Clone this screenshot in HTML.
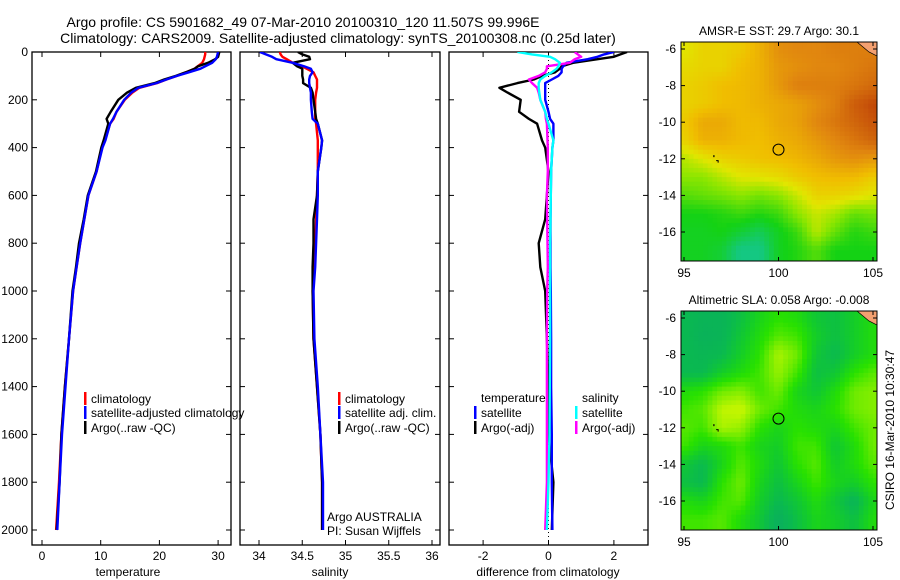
<!DOCTYPE html>
<html><head><meta charset="utf-8">
<style>
html,body{margin:0;padding:0;background:#fff;}
svg{display:block;font-family:"Liberation Sans",sans-serif;}
text{fill:#000;}
</style></head>
<body>
<svg id="fig" width="900" height="580" viewBox="0 0 900 580">
  <text x="303" y="27" font-size="14" text-anchor="middle">Argo profile: CS 5901682_49 07-Mar-2010 20100310_120 11.507S 99.996E</text>
  <text x="338" y="43" font-size="14" text-anchor="middle">Climatology: CARS2009. Satellite-adjusted climatology: synTS_20100308.nc (0.25d later)</text>
  <g id="plots"></g>
</svg>
<script>
// ---------- DATA ----------
const depths = [0,10,20,30,45,60,70,85,100,115,130,150,170,200,250,280,300,370,400,500,600,700,800,900,1000,1200,1400,1600,1800,2000];
const tempClim  = [27.8,27.8,27.7,27.6,27.3,26.5,26,24.5,23,21.2,19.6,16.6,15.4,14.1,12.7,12.2,11.6,10.7,10.2,9.3,7.9,7.2,6.5,5.9,5.3,4.6,3.9,3.3,2.9,2.4];
const tempSat   = [30,29.9,29.8,29.6,29,27.8,27,25,23,21.2,19.5,16.4,15.2,14,12.7,12.1,11.6,10.8,10.3,9.3,7.9,7.2,6.5,5.9,5.3,4.6,4,3.4,3,2.6];
const tempArgo  = [30.2,30.1,30,29.5,28.3,26.6,26,24.5,22.8,20.8,19.2,16,14.5,13,11.7,11,11.3,10.5,10.1,9.2,7.8,7.1,6.3,5.8,5.2,4.6,3.9,3.3,3.0,2.5];
const salClim   = [34.24,34.25,34.27,34.32,34.39,34.5,34.55,34.63,34.65,34.67,34.67,34.67,34.66,34.65,34.65,34.65,34.66,34.68,34.68,34.68,34.67,34.66,34.65,34.64,34.62,34.63,34.67,34.71,34.73,34.73];
const salSat    = [34.01,34.08,34.15,34.2,34.39,34.52,34.6,34.62,34.59,34.58,34.58,34.59,34.6,34.6,34.61,34.62,34.68,34.73,34.72,34.68,34.68,34.67,34.66,34.65,34.63,34.64,34.68,34.71,34.74,34.74];
const salArgo   = [34.45,34.5,34.58,34.59,34.39,34.44,34.5,34.5,34.5,34.51,34.51,34.6,34.62,34.63,34.65,34.66,34.68,34.73,34.72,34.68,34.67,34.63,34.63,34.62,34.62,34.63,34.67,34.71,34.73,34.73];
const dTempSat  = [2.0,1.7,1.5,1.2,0.55,0.45,0.4,0.4,0.3,0.1,-0.1,-0.1,-0.1,-0.1,0,0.05,0.15,0.15,0.12,0.08,0.07,0.06,0.06,0.06,0.07,0.08,0.08,0.1,0.1,0.12];
const dTempArgo = [2.4,2.2,2.0,1.5,0.75,0.4,0.35,0.2,-0.2,-0.45,-0.95,-1.5,-1.25,-0.85,-0.9,-0.6,-0.35,-0.2,-0.1,0,-0.05,-0.1,-0.3,-0.25,-0.1,-0.05,0,0,0.15,0.1];
const dSalSat   = [-0.95,-0.5,0.05,0.2,0.35,0.3,0.25,0.1,-0.1,-0.25,-0.3,-0.3,-0.28,-0.25,-0.1,-0.05,0,0.15,0.12,0.08,0.07,0.06,0.05,0.05,0.05,0.05,0.04,0.03,0.0,-0.05];
const dSalArgo  = [0.8,0.9,1.0,0.8,0.65,-0.05,-0.05,-0.1,-0.3,-0.6,-0.5,-0.35,-0.3,-0.25,-0.1,-0.08,-0.05,-0.03,-0.02,-0.02,-0.05,-0.04,-0.03,-0.02,-0.04,-0.05,-0.05,-0.05,-0.05,-0.1];
const depthTicks = [0,200,400,600,800,1000,1200,1400,1600,1800,2000];
const tempTicks = [0,10,20,30];
const salTicks = [34,34.5,35,35.5,36];
const salTickLabels = ["34","34.5","35","35.5","36"];
const diffTicks = [-2,0,2];
const lonTicks = [95,100,105];
const latTicks = [-6,-8,-10,-12,-14,-16];
const sstField = [
 [0.55,0.6,0.6,0.62,0.68,0.76,0.78,0.78,0.8,0.8,0.8],
 [0.58,0.6,0.6,0.65,0.68,0.74,0.76,0.78,0.78,0.8,0.82],
 [0.6,0.62,0.65,0.66,0.68,0.74,0.8,0.8,0.8,0.82,0.85],
 [0.6,0.62,0.65,0.66,0.68,0.7,0.72,0.76,0.8,0.88,0.92],
 [0.62,0.7,0.7,0.66,0.66,0.7,0.72,0.78,0.82,0.86,0.9],
 [0.6,0.68,0.68,0.66,0.65,0.68,0.7,0.74,0.78,0.82,0.86],
 [0.5,0.55,0.6,0.62,0.64,0.65,0.67,0.7,0.74,0.76,0.74],
 [0.45,0.45,0.5,0.55,0.56,0.58,0.62,0.65,0.66,0.66,0.62],
 [0.38,0.4,0.42,0.45,0.42,0.45,0.52,0.6,0.6,0.58,0.55],
 [0.3,0.3,0.32,0.35,0.32,0.35,0.45,0.52,0.48,0.4,0.42],
 [0.28,0.28,0.3,0.25,0.2,0.28,0.35,0.5,0.4,0.32,0.35],
 [0.28,0.28,0.25,0.12,0.12,0.28,0.32,0.38,0.3,0.3,0.3]
];
const slaField = [
 [0.15,0.1,0.1,0.2,0.35,0.45,0.4,0.25,0.2,0.3,0.4],
 [0.15,0.08,0.1,0.25,0.4,0.55,0.5,0.3,0.2,0.3,0.4],
 [0.15,0.12,0.15,0.3,0.45,0.75,0.6,0.25,0.15,0.3,0.4],
 [0.15,0.15,0.3,0.4,0.5,0.7,0.5,0.2,0.25,0.45,0.55],
 [0.4,0.45,0.6,0.65,0.5,0.6,0.35,0.25,0.4,0.6,0.65],
 [0.5,0.55,0.8,0.85,0.6,0.5,0.4,0.35,0.45,0.6,0.65],
 [0.55,0.5,0.75,0.7,0.45,0.35,0.45,0.4,0.35,0.5,0.6],
 [0.5,0.35,0.4,0.5,0.35,0.3,0.5,0.5,0.25,0.4,0.6],
 [0.25,0.15,0.35,0.55,0.4,0.25,0.45,0.55,0.3,0.4,0.55],
 [0.2,0.15,0.45,0.6,0.35,0.2,0.35,0.5,0.35,0.3,0.45],
 [0.4,0.35,0.5,0.55,0.3,0.15,0.25,0.4,0.25,0.1,0.35],
 [0.5,0.5,0.55,0.4,0.25,0.05,0.2,0.35,0.3,0.2,0.4]
];
const argoLon = 100.0, argoLat = -11.5;

// ---------- DRAW ----------
const NS = "http://www.w3.org/2000/svg";
const root = document.getElementById('plots');
function el(tag, attrs, parent, txt){
  const e = document.createElementNS(NS, tag);
  for (const k in attrs) e.setAttribute(k, attrs[k]);
  if (txt !== undefined) e.textContent = txt;
  (parent || root).appendChild(e);
  return e;
}
const yTop = 52, yBot = 545;
function yScale(d){ return 52 + d * (478/2000); }

const panels = [
  {name:'temperature', x0:32, x1:231, sx:v=>42+5.87*v, ticks:tempTicks, labels:tempTicks.map(String), title:'temperature', tx:128},
  {name:'salinity', x0:240, x1:440, sx:v=>259+86.5*(v-34), ticks:salTicks, labels:salTickLabels, title:'salinity', tx:330},
  {name:'difference', x0:449, x1:648, sx:v=>548.5+32.7*v, ticks:diffTicks, labels:diffTicks.map(String), title:'difference from climatology', tx:548}
];

function pathFor(xs, sx){
  return xs.map((v,i)=> (i?'L':'M') + sx(v).toFixed(1) + ',' + yScale(depths[i]).toFixed(1)).join(' ');
}

panels.forEach((p, pi) => {
  const g = el('g', {});
  
  
  const frame = el('rect', {x:p.x0, y:yTop, width:p.x1-p.x0, height:yBot-yTop, fill:'none', stroke:'#000', 'stroke-width':1.3}, g);
  
  
  depthTicks.forEach(d => {
    const y = yScale(d);
    el('line', {x1:p.x0, x2:p.x0+5, y1:y, y2:y, stroke:'#000'}, g);
    el('line', {x1:p.x1-5, x2:p.x1, y1:y, y2:y, stroke:'#000'}, g);
    if (pi === 0) {
      const t = el('text', {x:p.x0-4, y:y+4, 'font-size':12, 'text-anchor':'end'}, g, String(d));
      
      
    }
  });
  p.ticks.forEach((v, i) => {
    const x = p.sx(v);
    el('line', {x1:x, x2:x, y1:yTop, y2:yTop+5, stroke:'#000'}, g);
    el('line', {x1:x, x2:x, y1:yBot-5, y2:yBot, stroke:'#000'}, g);
    const t = el('text', {x:x, y:560, 'font-size':12, 'text-anchor':'middle'}, g, p.labels[i]);
    
    
  });
  const at = el('text', {x:p.tx, y:576, 'font-size':12, 'text-anchor':'middle'}, g, p.title);
  
  
  const clipId = 'clip' + pi;
  const cp = el('clipPath', {id:clipId}, g);
  el('rect', {x:p.x0, y:yTop, width:p.x1-p.x0, height:yBot-yTop}, cp);
  p.g = el('g', {'clip-path':'url(#'+clipId+')'}, g);
});

function series(p, data, color, name){
  const e = el('path', {d:pathFor(data, p.sx), fill:'none', stroke:color, 'stroke-width':2.4, 'stroke-linejoin':'round'}, p.g);
  
  
}
series(panels[0], tempClim, '#f00', 'temp-climatology-line');
series(panels[0], tempArgo, '#000', 'temp-argo-line');
series(panels[0], tempSat, '#00f', 'temp-satellite-line');
series(panels[1], salClim, '#f00', 'sal-climatology-line');
series(panels[1], salArgo, '#000', 'sal-argo-line');
series(panels[1], salSat, '#00f', 'sal-satellite-line');
const zl = el('line', {x1:panels[2].sx(0), x2:panels[2].sx(0), y1:yTop, y2:yBot, stroke:'#000', 'stroke-dasharray':'1,3'}, panels[2].g);


series(panels[2], dTempArgo, '#000', 'diff-temp-argo-line');
series(panels[2], dTempSat, '#00f', 'diff-temp-satellite-line');
series(panels[2], dSalArgo, '#f0f', 'diff-sal-argo-line');
series(panels[2], dSalSat, '#0ff', 'diff-sal-satellite-line');

function legend(x, y, color, label, name){
  const g = el('g', {});
  
  
  el('rect', {x:x, y:y-10, width:2.5, height:13, fill:color}, g);
  el('text', {x:x+7, y:y+1, 'font-size':12}, g, label);
}
legend(84, 402, '#f00', 'climatology', 'legend-entry-climatology');
legend(84, 416, '#00f', 'satellite-adjusted climatology', 'legend-entry-satellite-adjusted');
legend(84, 431, '#000', 'Argo(..raw -QC)', 'legend-entry-argo');
legend(338, 402, '#f00', 'climatology', 'legend-entry-sal-climatology');
legend(338, 416, '#00f', 'satellite adj. clim.', 'legend-entry-sal-satellite');
legend(338, 431, '#000', 'Argo(..raw -QC)', 'legend-entry-sal-argo');
legend(474, 416, '#00f', 'satellite', 'legend-entry-diff-temp-satellite');
legend(474, 431, '#000', 'Argo(-adj)', 'legend-entry-diff-temp-argo');
legend(575, 416, '#0ff', 'satellite', 'legend-entry-diff-sal-satellite');
legend(575, 431, '#f0f', 'Argo(-adj)', 'legend-entry-diff-sal-argo');
const lh1 = el('text', {x:481, y:402, 'font-size':12}, root, 'temperature');


const lh2 = el('text', {x:582, y:402, 'font-size':12}, root, 'salinity');


const ag = el('text', {x:327, y:521, 'font-size':12}, root, 'Argo AUSTRALIA');


const pi_ = el('text', {x:327, y:535, 'font-size':12}, root, 'PI: Susan Wijffels');



// ---------- MAPS ----------
function lerp(a,b,t){return a+(b-a)*t;}
function cmap(stops, v){
  v = Math.max(0, Math.min(1, v));
  for (let i=1;i<stops.length;i++){
    if (v <= stops[i][0]){
      const a=stops[i-1], b=stops[i], t=(v-a[0])/(b[0]-a[0]);
      return 'rgb('+[1,2,3].map(k=>Math.round(lerp(a[k],b[k],t))).join(',')+')';
    }
  }
  const s=stops[stops.length-1]; return 'rgb('+s[1]+','+s[2]+','+s[3]+')';
}
const sstStops = [[0,20,200,170],[0.15,20,200,120],[0.3,20,210,20],[0.45,140,230,0],[0.55,225,230,0],[0.65,240,190,0],[0.78,225,135,15],[0.9,200,85,10],[1,165,20,0]];
const slaStops = [[0,10,170,100],[0.15,10,185,80],[0.3,20,205,40],[0.45,40,225,0],[0.6,110,235,0],[0.8,190,245,0],[1,215,245,0]];
function sample(field, lon, lat){
  let c = Math.max(0, Math.min(10, lon-95));
  let r = Math.max(0, Math.min(11, -6-lat));
  const c0=Math.min(9,Math.floor(c)), r0=Math.min(10,Math.floor(r));
  const tc=c-c0, tr=r-r0;
  return lerp(lerp(field[r0][c0],field[r0][c0+1],tc), lerp(field[r0+1][c0],field[r0+1][c0+1],tc), tr);
}
function drawMap(name, field, stops, top, title){
  const left=681, right=877, bottom=top+219;
  const lx = lon => 684 + (lon-95)*18.9;
  const ly = lat => top + 7 + (-6-lat)*18.3;
  const g = el('g', {});
  
  
  const cp = el('clipPath', {id:name+'-clip'}, g);
  el('rect', {x:left, y:top, width:right-left, height:bottom-top}, cp);
  const cells = el('g', {'clip-path':'url(#'+name+'-clip)'}, g);
  for (let lon=94.75; lon<105.3; lon+=0.25){
    for (let lat=-5.5; lat>-17.75; lat-=0.25){
      const v = sample(field, lon+0.125, lat-0.125);
      el('rect', {x:lx(lon).toFixed(1), y:ly(lat).toFixed(1), width:5.1, height:5, fill:cmap(stops, v)}, cells);
    }
  }
  el('path', {d:'M'+(right-20)+','+top+' L'+right+','+top+' L'+right+','+(top+14)+' L'+(right-8)+','+(top+10)+' Z', fill:'#f4a070', stroke:'#000', 'stroke-width':0.7}, cells);
  el('path', {d:'M'+lx(96.7)+','+ly(-12.1)+' l2,0 l0,2', fill:'none', stroke:'#000', 'stroke-width':1}, cells);
  el('rect', {x:lx(96.55), y:ly(-11.8), width:1.2, height:2, fill:'#000'}, cells);
  const circ = el('circle', {cx:lx(argoLon), cy:ly(argoLat), r:5.5, fill:'none', stroke:'#000', 'stroke-width':1}, g);
  
  
  el('rect', {x:left, y:top, width:right-left, height:bottom-top, fill:'none', stroke:'#000', 'stroke-width':1}, g);
  lonTicks.forEach(lon => {
    const x = lx(lon);
    el('line', {x1:x, x2:x, y1:bottom, y2:bottom-4, stroke:'#000'}, g);
    el('line', {x1:x, x2:x, y1:top, y2:top+4, stroke:'#000'}, g);
    const t = el('text', {x:x, y:bottom+16, 'font-size':12, 'text-anchor':'middle'}, g, String(lon));
    
    
  });
  latTicks.forEach(lat => {
    const y = ly(lat);
    el('line', {x1:left, x2:left+4, y1:y, y2:y, stroke:'#000'}, g);
    el('line', {x1:right, x2:right-4, y1:y, y2:y, stroke:'#000'}, g);
    const t = el('text', {x:left-5, y:y+4, 'font-size':12, 'text-anchor':'end'}, g, String(lat));
    
    
  });
  const tt = el('text', {x:(left+right)/2, y:top-7, 'font-size':12, 'text-anchor':'middle'}, g, title);
  
  
}
drawMap('sst-map', sstField, sstStops, 42, 'AMSR-E SST: 29.7 Argo: 30.1');
drawMap('sla-map', slaField, slaStops, 311, 'Altimetric SLA: 0.058 Argo: -0.008');
const stamp = el('text', {x:0, y:0, 'font-size':12, 'text-anchor':'middle', transform:'translate(894,430) rotate(-90)'}, root, 'CSIRO 16-Mar-2010 10:30:47');


</script>
</body></html>
